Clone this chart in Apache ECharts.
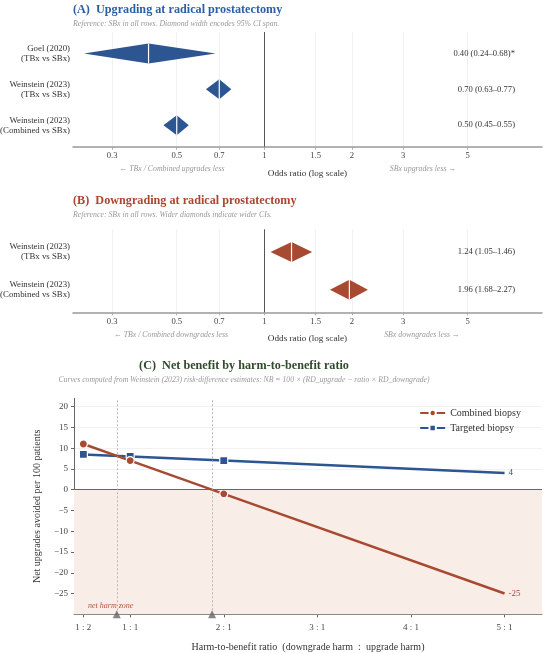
<!DOCTYPE html>
<html><head><meta charset="utf-8">
<script src="https://cdn.jsdelivr.net/npm/echarts@6/dist/echarts.min.js"></script>
<style>html,body{margin:0;padding:0;background:#fff}#c{width:550px;height:653px}</style>
</head><body><div id="c"></div>
<script>
const FONT = '"Liberation Serif", "DejaVu Serif", serif';

// Panel A: upgrading
const upLabels = ['Goel (2020)\n(TBx vs SBx)', 'Weinstein (2023)\n(TBx vs SBx)', 'Weinstein (2023)\n(Combined vs SBx)'];
const upOR = [0.40, 0.70, 0.50];
const upLo = [0.24, 0.63, 0.45];
const upHi = [0.68, 0.77, 0.55];
const upText = ['0.40 (0.24–0.68)*', '0.70 (0.63–0.77)', '0.50 (0.45–0.55)'];

// Panel B: downgrading
const downLabels = ['Weinstein (2023)\n(TBx vs SBx)', 'Weinstein (2023)\n(Combined vs SBx)'];
const downOR = [1.24, 1.96];
const downLo = [1.05, 1.68];
const downHi = [1.46, 2.27];
const downText = ['1.24 (1.05–1.46)', '1.96 (1.68–2.27)'];

const orTicks = [0.3, 0.5, 0.7, 1, 1.5, 2, 3, 5];
const orTickLabels = ['0.3', '0.5', '0.7', '1', '1.5', '2', '3', '5'];
const orRange = [0.22, 9];
const refOR = 1;

// Panel C: net benefit
const ratios = [0.5, 1, 2, 5];
const combinedNB = [11, 7, -1, -25];
const targetedNB = [8.5, 8, 7, 4];
const markerCount = 3;
const ratioTicks = [0.5, 1, 2, 3, 4, 5];
const ratioTickLabels = ['1 : 2', '1 : 1', '2 : 1', '3 : 1', '4 : 1', '5 : 1'];
const nbTicks = [-25, -20, -15, -10, -5, 0, 5, 10, 15, 20];
const crossPoints = [0.857, 1.875];
const ratioRange = [0.4, 5.4];
const nbRange = [-30, 22];

const BLUE = '#2c5592', RUST = '#a84a32';
const chart = echarts.init(document.getElementById('c'), null, {renderer: 'canvas'});

const lnTicks = orTicks.map(Math.log);
function nearestIdx(arr, v) {
  let best = 0;
  arr.forEach((t, i) => { if (Math.abs(t - v) < Math.abs(arr[best] - v)) best = i; });
  return best;
}
const orLabel = v => orTickLabels[nearestIdx(lnTicks, v)];

function orXAxis(gridIndex, nameGap) {
  return {
    type: 'value', gridIndex, min: Math.log(orRange[0]), max: Math.log(orRange[1]),
    name: 'Odds ratio (log scale)', nameLocation: 'middle', nameGap,
    nameTextStyle: {fontFamily: FONT, fontSize: 9.2, color: '#333'},
    axisLine: {show: true, onZero: false, lineStyle: {color: '#999', width: 1.5}},
    axisTick: {show: true, length: 3, lineStyle: {color: '#aaa'}, customValues: lnTicks},
    axisLabel: {customValues: lnTicks, formatter: orLabel, fontFamily: FONT, fontSize: 8.6, color: '#444', margin: 5},
    splitLine: {show: true, lineStyle: {color: '#eeeeee', width: 0.8}}
  };
}
function rowYAxis(gridIndex, n, labels, pos) {
  const vals = labels.map((_, i) => i);
  const right = pos === 'right';
  return {
    type: 'value', gridIndex, min: -0.6, max: n - 1 + 0.6, inverse: true, position: pos,
    axisLine: {show: false}, axisTick: {show: false}, splitLine: {show: false},
    axisLabel: {
      customValues: vals, formatter: v => labels[Math.round(v)], inside: right,
      margin: right ? 27 : 3, fontFamily: FONT, fontSize: right ? 8.6 : 8.8, lineHeight: 10,
      color: '#333', align: 'right'
    }
  };
}
function diamondSeries(xi, lo, est, hi, color) {
  return {
    type: 'custom', xAxisIndex: xi, yAxisIndex: xi * 2, silent: true, z: 5,
    data: est.map((e, i) => [Math.log(lo[i]), Math.log(e), Math.log(hi[i]), i]),
    encode: {x: [0, 1, 2], y: 3},
    renderItem(params, api) {
      const y = api.value(3);
      const pl = api.coord([api.value(0), y]);
      const pe = api.coord([api.value(1), y]);
      const ph = api.coord([api.value(2), y]);
      const h = 10;
      return {type: 'group', children: [
        {type: 'polygon', shape: {points: [[pl[0], pl[1]], [pe[0], pe[1] - h], [ph[0], ph[1]], [pe[0], pe[1] + h]]}, style: {fill: color}},
        {type: 'line', shape: {x1: pe[0], y1: pe[1] - h, x2: pe[0], y2: pe[1] + h}, style: {stroke: '#fff', lineWidth: 1.2}}
      ]};
    }
  };
}
function refLine(xi) {
  return {
    type: 'line', xAxisIndex: xi, yAxisIndex: xi * 2, data: [], silent: true,
    markLine: {silent: true, symbol: 'none', label: {show: false},
      lineStyle: {color: '#555', width: 1, type: 'solid'}, data: [{xAxis: Math.log(refOR)}]}
  };
}
const ann = (x, y, text) => ({type: 'text', x, y, style: {text, fill: '#999', font: 'italic 7.8px ' + FONT, align: 'center', verticalAlign: 'middle'}});

const option = {
  animation: false,
  backgroundColor: '#fff',
  title: [
    {text: '(A)  Upgrading at radical prostatectomy', left: 73, top: 4, padding: 0,
      textStyle: {fontFamily: FONT, fontSize: 12.2, fontWeight: 'bold', color: '#2c5ea6'}},
    {text: 'Reference: SBx in all rows. Diamond width encodes 95% CI span.', left: 73, top: 20, padding: 0,
      textStyle: {fontFamily: FONT, fontSize: 7.8, fontStyle: 'italic', fontWeight: 'normal', color: '#999'}},
    {text: '(B)  Downgrading at radical prostatectomy', left: 73, top: 194.5, padding: 0,
      textStyle: {fontFamily: FONT, fontSize: 12.2, fontWeight: 'bold', color: '#a9472f'}},
    {text: 'Reference: SBx in all rows. Wider diamonds indicate wider CIs.', left: 73, top: 210.5, padding: 0,
      textStyle: {fontFamily: FONT, fontSize: 7.8, fontStyle: 'italic', fontWeight: 'normal', color: '#999'}}
  ],
  graphic: [
    {type: 'text', x: 244, y: 366, style: {text: '(C)  Net benefit by harm-to-benefit ratio', fill: '#2f4a2c',
      font: 'bold 12.2px ' + FONT, align: 'center', verticalAlign: 'middle'}},
    {type: 'text', x: 244, y: 379.5, style: {text: 'Curves computed from Weinstein (2023) risk-difference estimates: NB = 100 × (RD_upgrade − ratio × RD_downgrade)',
      fill: '#999', font: 'italic 7.7px ' + FONT, align: 'center', verticalAlign: 'middle'}},
    ann(172, 169.3, '← TBx / Combined upgrades less'),
    ann(423, 169.3, 'SBx upgrades less →'),
    ann(171, 335, '← TBx / Combined downgrades less'),
    ann(422, 335, 'SBx downgrades less →')
  ],
  grid: [
    {left: 73, right: 8, top: 32, height: 114.7, outerBoundsMode: 'none', containLabel: false},
    {left: 73, right: 8, top: 229.3, height: 83, outerBoundsMode: 'none', containLabel: false},
    {left: 74, right: 8, top: 398.3, height: 216, outerBoundsMode: 'none', containLabel: false}
  ],
  xAxis: [
    orXAxis(0, 22),
    orXAxis(1, 22),
    {
      type: 'value', gridIndex: 2, min: ratioRange[0], max: ratioRange[1],
      name: 'Harm-to-benefit ratio  (downgrade harm  :  upgrade harm)', nameLocation: 'middle', nameGap: 28,
      nameTextStyle: {fontFamily: FONT, fontSize: 10, color: '#333'},
      axisLine: {show: true, onZero: false, lineStyle: {color: '#666', width: 1}},
      axisTick: {show: true, length: 3, lineStyle: {color: '#666'}, customValues: ratioTicks},
      axisLabel: {customValues: ratioTicks, formatter: v => ratioTickLabels[nearestIdx(ratioTicks, v)],
        fontFamily: FONT, fontSize: 9, color: '#444', margin: 9},
      splitLine: {show: false}
    }
  ],
  yAxis: [
    rowYAxis(0, 3, upLabels, 'left'),
    rowYAxis(0, 3, upText, 'right'),
    rowYAxis(1, 2, downLabels, 'left'),
    rowYAxis(1, 2, downText, 'right'),
    {
      type: 'value', gridIndex: 2, min: nbRange[0], max: nbRange[1],
      name: 'Net upgrades avoided per 100 patients', nameLocation: 'middle', nameGap: 32,
      nameTextStyle: {fontFamily: FONT, fontSize: 10, color: '#333'},
      axisLine: {show: true, onZero: false, lineStyle: {color: '#666', width: 1}},
      axisTick: {show: true, length: 3, lineStyle: {color: '#666'}, customValues: nbTicks},
      axisLabel: {customValues: nbTicks, formatter: v => (v < 0 ? '−' + (-v) : String(v)),
        fontFamily: FONT, fontSize: 9, color: '#444', margin: 6},
      splitLine: {show: true, lineStyle: {color: '#eeeeee', width: 0.8}}
    }
  ],
  legend: {
    data: ['Combined biopsy', 'Targeted biopsy'], orient: 'vertical', right: 24, top: 403,
    itemWidth: 25, itemHeight: 8, itemGap: 5, align: 'left',
    textStyle: {fontFamily: FONT, fontSize: 10, color: '#333'}
  },
  series: [
    refLine(0),
    diamondSeries(0, upLo, upOR, upHi, BLUE),
    refLine(1),
    diamondSeries(1, downLo, downOR, downHi, RUST),
    {
      name: 'Combined biopsy', type: 'line', xAxisIndex: 2, yAxisIndex: 4, z: 4,
      data: ratios.map((r, i) => ({value: [r, combinedNB[i]], symbol: i < markerCount ? 'circle' : 'none'})),
      symbol: 'circle', symbolSize: 8, showAllSymbol: true,
      lineStyle: {color: RUST, width: 2.5}, itemStyle: {color: RUST, borderColor: '#fff', borderWidth: 1.2},
      endLabel: {show: true, formatter: p => String(p.value[1]), color: RUST, fontFamily: FONT, fontSize: 9, distance: 4},
      markArea: {silent: true, itemStyle: {color: '#f9eee7'},
        label: {show: true, position: 'insideBottomLeft', distance: 4, offset: [10, 0], formatter: 'net harm zone',
          color: '#b5533a', fontFamily: FONT, fontSize: 8, fontStyle: 'italic'},
        data: [[{yAxis: nbRange[0], name: 'net harm zone'}, {yAxis: 0}]]},
      markLine: {silent: true, symbol: 'none', label: {show: false},
        data: [
          {yAxis: 0, lineStyle: {color: '#666', width: 1, type: 'solid'}},
          {xAxis: crossPoints[0], lineStyle: {color: '#aaa', width: 0.8, type: [2, 2]}},
          {xAxis: crossPoints[1], lineStyle: {color: '#aaa', width: 0.8, type: [2, 2]}}
        ]}
    },
    {
      name: 'Targeted biopsy', type: 'line', xAxisIndex: 2, yAxisIndex: 4, z: 3,
      data: ratios.map((r, i) => ({value: [r, targetedNB[i]], symbol: i < markerCount ? 'rect' : 'none'})),
      symbol: 'rect', symbolSize: 8, showAllSymbol: true,
      lineStyle: {color: BLUE, width: 2.5}, itemStyle: {color: BLUE, borderColor: '#fff', borderWidth: 1.2},
      endLabel: {show: true, formatter: p => String(p.value[1]), color: BLUE, fontFamily: FONT, fontSize: 9, distance: 4}
    },
    {
      type: 'scatter', xAxisIndex: 2, yAxisIndex: 4, z: 6, silent: true, clip: false,
      data: crossPoints.map(x => [x, nbRange[0]]), symbol: 'triangle', symbolSize: 8,
      itemStyle: {color: '#666'}
    }
  ]
};
chart.setOption(option);
</script></body></html>
